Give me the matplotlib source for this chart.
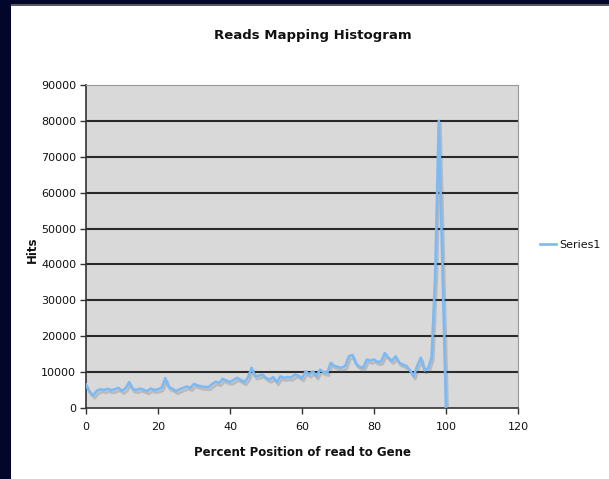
import matplotlib
matplotlib.use("Agg")
import matplotlib.pyplot as plt
import matplotlib.patheffects as pe
from matplotlib.patches import Rectangle

plt.rcParams['font.family'] = ['DejaVu Sans']

# Percent position of read along the gene (0..100)
positions = list(range(0, 101))

# Hit counts per percent position
hits = [
    6500, 4500, 3500, 4800, 5200, 5000, 5300, 5000, 5200, 5600,
    4800, 5500, 7200, 5200, 5000, 5400, 5100, 4700, 5400, 5000,
    5200, 5600, 8300, 5800, 5400, 4700, 5200, 5600, 6000, 5600,
    6700, 6300, 6000, 5900, 5800, 6600, 7300, 7000, 8100, 7600,
    7300, 7800, 8400, 7800, 7200, 8500, 11200, 8800, 9000, 9300,
    8400, 7900, 8600, 7200, 8800, 8400, 8600, 8500, 9300, 9000,
    8300, 10200, 9300, 10200, 8800, 10700, 10000, 9800, 12600, 11700,
    11400, 11200, 11700, 14400, 14800, 12300, 11500, 11200, 13500, 13200,
    13500, 12800, 13000, 15300, 14000, 13100, 14400, 12600, 12100, 11700,
    10500, 8800, 11700, 14000, 10500, 11000, 14000, 37000, 80000, 40000,
    0,
]

x_ticks = [0, 20, 40, 60, 80, 100, 120]
y_ticks = [0, 10000, 20000, 30000, 40000, 50000, 60000, 70000, 80000, 90000]

title = "Reads Mapping Histogram"
x_label = "Percent Position of read to Gene"
y_label = "Hits"
series_name = "Series1"

fig = plt.figure(figsize=(6.09, 4.79), dpi=100)
fig.patch.set_facecolor("white")

# Dark slide frame along the left and top edges
fig.patches.append(Rectangle((0, 0), 11 / 609, 1, transform=fig.transFigure,
                             facecolor="#03052b", edgecolor="none", zorder=0))
fig.patches.append(Rectangle((0, 1 - 4 / 479), 1, 4 / 479, transform=fig.transFigure,
                             facecolor="#03052b", edgecolor="none", zorder=0))
fig.patches.append(Rectangle((11 / 609, 1 - 6 / 479), 1, 2 / 479, transform=fig.transFigure,
                             facecolor="#5a5a5a", edgecolor="none", zorder=0))

ax = fig.add_axes([86 / 609, 1 - 408 / 479, 432 / 609, 323 / 479])
ax.set_facecolor("#d9d9d9")

for v in y_ticks[1:-1]:
    ax.axhline(v, color="#2a2a2a", linewidth=1.5, zorder=1)

line, = ax.plot(positions, hits, color="#7db9f2", linewidth=1.9, zorder=3,
                label=series_name, solid_joinstyle="round",
                path_effects=[pe.SimpleLineShadow(offset=(1.2, -2.0), shadow_color="#606060", alpha=0.25),
                              pe.Normal()])

ax.set_xlim(0, 120)
ax.set_ylim(0, 90000)
ax.set_xticks(x_ticks)
ax.set_yticks(y_ticks)
ax.set_xticklabels([str(t) for t in x_ticks])
ax.set_yticklabels([str(t) for t in y_ticks])

for side in ("left", "bottom"):
    ax.spines[side].set_color("#333333")
    ax.spines[side].set_linewidth(1.2)
for side in ("top", "right"):
    ax.spines[side].set_color("#9a9a9a")
    ax.spines[side].set_linewidth(0.8)

ax.tick_params(axis="both", direction="out", length=4, width=1, color="#333333",
               labelsize=8, labelcolor="#111111")
ax.tick_params(axis="x", pad=6)
ax.tick_params(axis="y", pad=3)

fig.text(313 / 609, 1 - 36 / 479, title, ha="center", va="center",
         fontsize=9.5, fontweight="bold", color="#111111")
fig.text(302 / 609, 1 - 453 / 479, x_label, ha="center", va="center",
         fontsize=8.5, fontweight="bold", color="#111111")
fig.text(32 / 609, 1 - 250 / 479, y_label, ha="center", va="center", rotation=90,
         fontsize=8.5, fontweight="bold", color="#111111")

leg = fig.legend(handles=[line], labels=[series_name], loc="center left",
                 bbox_to_anchor=(540 / 609, 1 - 245 / 479), frameon=False,
                 fontsize=8, handlelength=1.4, handletextpad=0.3,
                 borderaxespad=0, borderpad=0)
for t in leg.get_texts():
    t.set_color("#111111")
for h in leg.legend_handles:
    h.set_path_effects([])

fig.savefig("out.png", dpi=100)
